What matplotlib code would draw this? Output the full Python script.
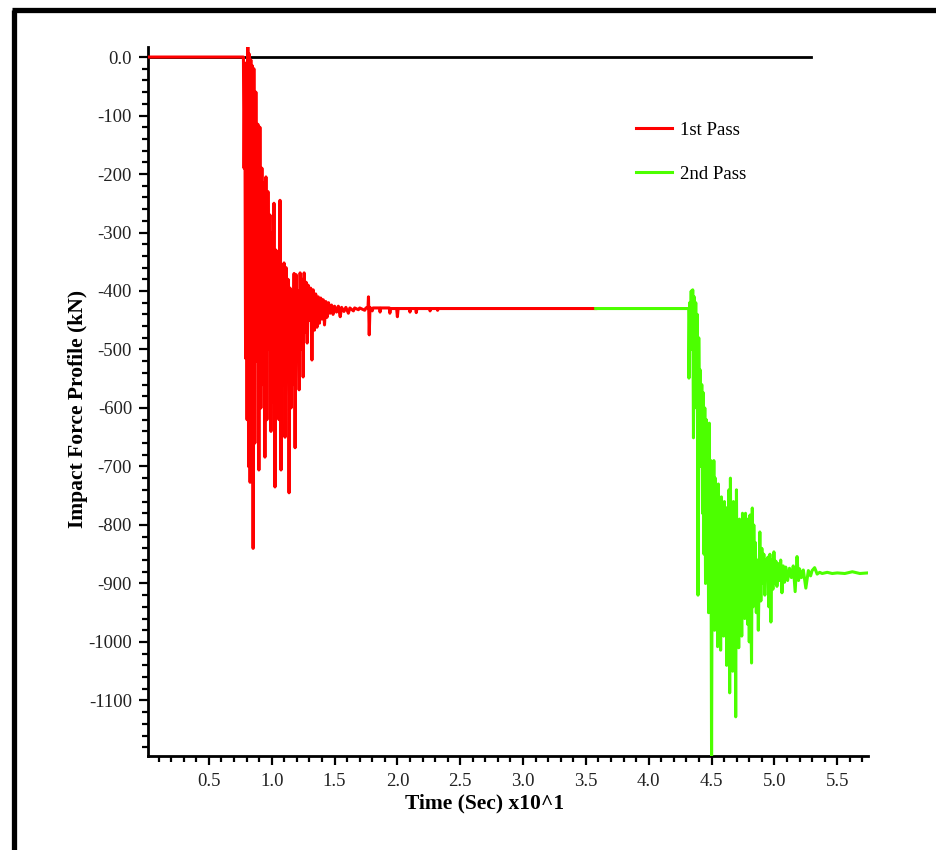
import matplotlib.pyplot as plt
from matplotlib.lines import Line2D
from matplotlib.ticker import MultipleLocator, FixedLocator

plt.rcParams['font.family'] = ['Liberation Serif', 'DejaVu Serif']

# Reference zero line
zero_t = [0.016, 5.29]
zero_f = [0.0, 0.0]

# 1st pass (time x10 s, force kN)
pass1_t = [0.016, 0.775, 0.780, 0.786, 0.792, 0.798, 0.804, 0.810, 0.816, 0.822,
           0.828, 0.834, 0.840, 0.846, 0.852, 0.858, 0.866, 0.874, 0.882, 0.890,
           0.898, 0.906, 0.914, 0.922, 0.930, 0.938, 0.946, 0.954, 0.962, 0.970,
           0.978, 0.986, 0.994, 1.002, 1.010, 1.018, 1.026, 1.034, 1.042, 1.050,
           1.058, 1.066, 1.074, 1.082, 1.090, 1.098, 1.106, 1.114, 1.122, 1.130,
           1.138, 1.146, 1.154, 1.162, 1.170, 1.178, 1.186, 1.194, 1.202, 1.210,
           1.218, 1.226, 1.234, 1.242, 1.250, 1.258, 1.266, 1.274, 1.282, 1.290,
           1.300, 1.310, 1.320, 1.330, 1.340, 1.350, 1.360, 1.370, 1.380, 1.390,
           1.400, 1.410, 1.420, 1.430, 1.440, 1.452, 1.464, 1.476, 1.488, 1.500,
           1.515, 1.530, 1.545, 1.556, 1.575, 1.590, 1.610, 1.622, 1.650, 1.660,
           1.690, 1.700, 1.740, 1.750, 1.766, 1.770, 1.776, 1.782, 1.800, 1.806,
           1.858, 1.862, 1.868, 1.936, 1.940, 1.946, 1.994, 2.000, 2.006, 2.096,
           2.100, 2.106, 2.146, 2.150, 2.156, 2.256, 2.260, 2.266, 2.316, 2.320,
           2.326, 3.578]
pass1_f = [0, 0, -190, -30, -515, -10, -620, 18, -700, 5,
           -727, -5, -560, -15, -840, -20, -660, -60, -520, -115,
           -706, -120, -600, -190, -560, -215, -684, -205, -620, -230,
           -500, -270, -640, -300, -590, -250, -735, -330, -560, -360,
           -620, -245, -706, -355, -560, -352, -650, -360, -520, -380,
           -745, -395, -600, -400, -560, -370, -668, -372, -520, -400,
           -569, -369, -500, -380, -547, -369, -470, -385, -489, -390,
           -450, -395, -518, -398, -467, -405, -462, -410, -455, -412,
           -448, -415, -458, -418, -445, -420, -438, -424, -440, -426,
           -436, -426, -444, -428, -435, -428, -438, -429, -434, -429,
           -432, -429, -433, -429, -429, -410, -475, -428, -434, -429,
           -429, -436, -429, -429, -438, -430, -430, -444, -430, -430,
           -436, -430, -430, -437, -430, -430, -434, -430, -430, -433,
           -430, -430]

# 2nd pass
pass2_t = [3.578, 4.318, 4.320, 4.326, 4.332, 4.338, 4.344, 4.350, 4.356, 4.362,
           4.368, 4.374, 4.380, 4.386, 4.392, 4.398, 4.404, 4.410, 4.416, 4.422,
           4.428, 4.434, 4.440, 4.446, 4.452, 4.458, 4.464, 4.470, 4.476, 4.482,
           4.488, 4.494, 4.500, 4.506, 4.512, 4.518, 4.524, 4.530, 4.536, 4.542,
           4.548, 4.554, 4.560, 4.566, 4.572, 4.578, 4.584, 4.590, 4.596, 4.602,
           4.608, 4.614, 4.620, 4.626, 4.632, 4.638, 4.644, 4.650, 4.656, 4.662,
           4.668, 4.674, 4.680, 4.686, 4.692, 4.698, 4.704, 4.710, 4.716, 4.722,
           4.728, 4.734, 4.740, 4.746, 4.752, 4.758, 4.764, 4.770, 4.776, 4.782,
           4.788, 4.794, 4.800, 4.806, 4.812, 4.818, 4.824, 4.830, 4.836, 4.842,
           4.848, 4.856, 4.864, 4.872, 4.884, 4.892, 4.900, 4.908, 4.916, 4.924,
           4.932, 4.940, 4.948, 4.956, 4.964, 4.972, 4.980, 4.988, 4.996, 5.004,
           5.012, 5.020, 5.030, 5.040, 5.050, 5.060, 5.070, 5.080, 5.090, 5.105,
           5.120, 5.135, 5.150, 5.165, 5.180, 5.192, 5.200, 5.215, 5.230, 5.250,
           5.270, 5.288, 5.300, 5.320, 5.340, 5.360, 5.380, 5.420, 5.460, 5.500,
           5.560, 5.620, 5.680, 5.742]
pass2_f = [-430, -430, -549, -420, -470, -400, -500, -398, -651, -410,
           -560, -420, -600, -440, -920, -480, -640, -535, -700, -560,
           -780, -574, -850, -600, -900, -620, -780, -640, -950, -626,
           -880, -690, -1210, -700, -920, -690, -980, -720, -940, -752,
           -1008, -730, -960, -760, -1014, -752, -930, -780, -990, -760,
           -940, -790, -1040, -770, -960, -740, -1087, -720, -980, -800,
           -1050, -760, -940, -810, -1128, -740, -960, -820, -1010, -790,
           -930, -837, -990, -780, -900, -810, -960, -780, -920, -790,
           -970, -800, -1000, -783, -930, -1036, -771, -940, -800, -900,
           -830, -950, -860, -980, -812, -930, -840, -900, -850, -920,
           -860, -890, -855, -940, -850, -966, -860, -910, -846, -900,
           -862, -905, -866, -895, -860, -916, -870, -898, -872, -895,
           -874, -890, -870, -914, -854, -895, -875, -890, -877, -908,
           -878, -887, -878, -873, -884, -881, -883, -881, -883, -882,
           -883, -880, -883, -882]

fig = plt.figure(figsize=(9.37, 8.5), dpi=100)
ax = fig.add_axes([0.158, 0.1106, 0.768, 0.834])

ax.plot(zero_t, zero_f, color='black', lw=2.0, zorder=2)
ax.plot(pass1_t, pass1_f, color='#ff0000', lw=2.2, label='1st Pass', zorder=3)
ax.plot(pass2_t, pass2_f, color='#4cff00', lw=2.2, label='2nd Pass', zorder=3)

ax.set_xlim(0.016, 5.742)
ax.set_ylim(-1195, 17)

ax.xaxis.set_major_locator(FixedLocator([0.5, 1.0, 1.5, 2.0, 2.5, 3.0, 3.5, 4.0, 4.5, 5.0, 5.5]))
ax.xaxis.set_minor_locator(MultipleLocator(0.1))
ax.yaxis.set_major_locator(FixedLocator(list(range(0, -1101, -100))))
ax.yaxis.set_minor_locator(MultipleLocator(20))
ax.set_xticklabels(['0.5', '1.0', '1.5', '2.0', '2.5', '3.0', '3.5', '4.0', '4.5', '5.0', '5.5'])
ax.set_yticklabels(['0.0'] + [str(v) for v in range(-100, -1101, -100)])

ax.tick_params(which='major', direction='out', length=6.5, width=1.6, labelsize=13.5,
               labelcolor='#222222', pad=5)
ax.tick_params(which='minor', direction='out', length=4, width=1.6)
ax.tick_params(axis='x', which='major', pad=6)

for s in ['top', 'right']:
    ax.spines[s].set_visible(False)
for s in ['left', 'bottom']:
    ax.spines[s].set_linewidth(2.0)

ax.set_xlabel('Time (Sec) x10^1', fontsize=15.5, fontweight='bold')
ax.set_ylabel('Impact Force Profile (kN)', fontsize=15.5, fontweight='bold')
ax.xaxis.set_label_coords(0.468, -0.053)
ax.yaxis.set_label_coords(-0.083, 0.49)

ax.legend(loc='upper left', bbox_to_anchor=(0.669, 0.868), bbox_transform=fig.transFigure,
          frameon=False, fontsize=13.5, handlelength=1.9, handletextpad=0.45,
          labelspacing=1.45, borderpad=0)

# outer frame (top and left only)
fig.add_artist(Line2D([14.5 / 937, 14.5 / 937], [0, 1 - 9.5 / 850], color='black', lw=3.8,
                      transform=fig.transFigure, solid_capstyle='butt'))
fig.add_artist(Line2D([12 / 937, 1], [1 - 9.5 / 850, 1 - 9.5 / 850], color='black', lw=3.8,
                      transform=fig.transFigure, solid_capstyle='butt'))

plt.savefig('out.png', dpi=100)
